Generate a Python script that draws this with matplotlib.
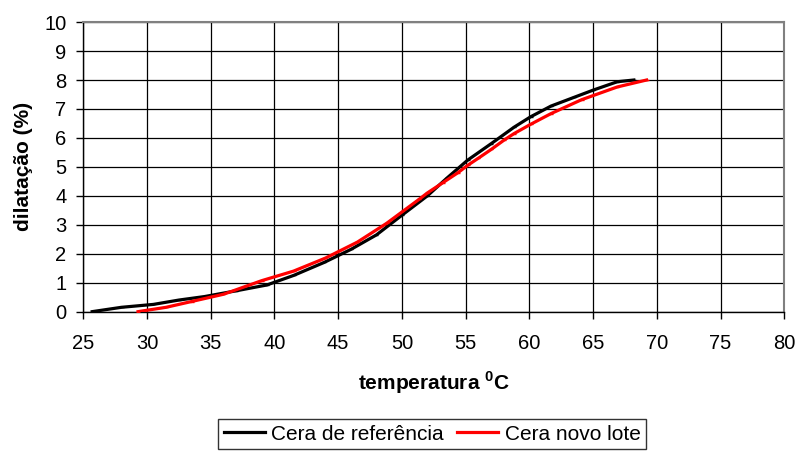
import matplotlib
matplotlib.use('Agg')
import matplotlib.pyplot as plt

plt.rcParams['font.family'] = ['Liberation Sans', 'DejaVu Sans']
plt.rcParams['mathtext.fontset'] = 'custom'
plt.rcParams['mathtext.bf'] = 'Liberation Sans:bold'

# data
temp_ref = [25.7, 28.0, 30.5, 32.5, 34.5, 37.0, 39.4, 41.5, 43.9, 46.0, 48.0,
            50.0, 52.0, 53.5, 55.15, 57.0, 58.8, 60.1, 61.7, 63.5, 65.0, 66.9, 68.2]
dil_ref = [0.0, 0.15, 0.25, 0.4, 0.52, 0.72, 0.92, 1.25, 1.7, 2.15, 2.65,
           3.33, 4.0, 4.6, 5.23, 5.8, 6.37, 6.73, 7.1, 7.4, 7.65, 7.94, 8.0]

temp_novo = [29.3, 31.5, 33.5, 36.0, 39.0, 41.5, 44.0, 46.5, 48.8, 51.35, 52.0,
             53.2, 54.4, 55.15, 56.0, 57.0, 58.0, 58.8, 60.1, 61.7, 64.1, 66.9, 69.2]
dil_novo = [0.0, 0.15, 0.35, 0.6, 1.07, 1.4, 1.85, 2.4, 3.05, 3.88, 4.1,
            4.45, 4.8, 5.05, 5.3, 5.6, 5.92, 6.15, 6.47, 6.84, 7.32, 7.76, 8.0]

xticks = list(range(25, 81, 5))
yticks = list(range(0, 11))

fig = plt.figure(figsize=(7.97, 4.51), dpi=100)
ax = fig.add_axes([0.1045, 0.309, 0.8795, 0.642])

ax.plot(temp_ref, dil_ref, color='black', lw=2.3, marker='_', ms=3,
        label='Cera de referência', zorder=3)
ax.plot(temp_novo, dil_novo, color='red', lw=2.3, marker='_', ms=3,
        label='Cera novo lote', zorder=4)

ax.set_xlim(25, 80)
ax.set_ylim(0, 10)
ax.set_xticks(xticks)
ax.set_yticks(yticks)
ax.grid(True, color='black', lw=0.9)
ax.set_axisbelow(True)
ax.tick_params(direction='out', length=5, width=1, labelsize=14.5, color='black')
ax.tick_params(axis='x', pad=11)
ax.tick_params(axis='y', pad=7)

for side in ['top', 'right']:
    ax.spines[side].set_color('#808080')
    ax.spines[side].set_linewidth(1.5)
for side in ['left', 'bottom']:
    ax.spines[side].set_color('black')
    ax.spines[side].set_linewidth(1)

ax.set_ylabel('dilatação (%)', fontsize=15, fontweight='bold', labelpad=8)
ax.set_xlabel(r'temperatura $^{\mathbf{0}}$C', fontsize=15, fontweight='bold',
              labelpad=12)

fig.legend(loc='upper center', bbox_to_anchor=(0.542, 0.07), ncol=2,
           fontsize=15, frameon=True, fancybox=False, edgecolor='black',
           handlelength=2.0, handletextpad=0.3, columnspacing=0.6,
           borderpad=0.25, borderaxespad=0)

fig.savefig('out.png', dpi=100)
